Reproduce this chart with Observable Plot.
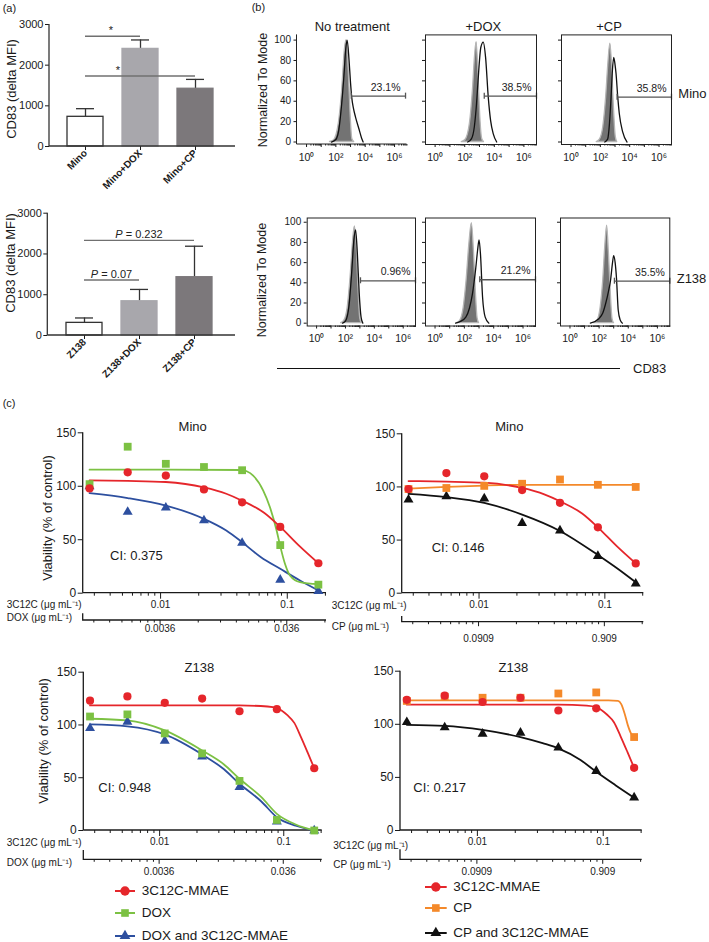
<!DOCTYPE html>
<html><head><meta charset="utf-8">
<script src="https://cdn.jsdelivr.net/npm/d3@7"></script>
<script src="https://cdn.jsdelivr.net/npm/@observablehq/plot@0.6"></script>
<style>
body{margin:0;background:#fff;}
#root{position:relative;width:709px;height:942px;overflow:hidden;background:#fff;font-family:"Liberation Sans",Arial,Helvetica,sans-serif;color:#1a1a1a;}
#root svg{position:absolute;overflow:visible;}
.t{position:absolute;white-space:nowrap;line-height:1;}
</style></head><body><div id="root"></div>
<script>
// ================= DATA =================
// (a) CD83 (delta MFI) bar charts
const aCatsMino = ["Mino", "Mino+DOX", "Mino+CP"];
const aMeanMino = [730, 2400, 1420];
const aErrMino  = [200, 220, 230];
const aSigMinoFrom = ["Mino", "Mino"];
const aSigMinoTo   = ["Mino+DOX", "Mino+CP"];
const aSigMinoY    = [2700, 1720];
const aSigMinoText = ["*", "*"];

const aCatsZ138 = ["Z138", "Z138+DOX", "Z138+CP"];
const aMeanZ138 = [310, 840, 1430];
const aErrZ138  = [120, 290, 760];
const aSigZ138From = ["Z138", "Z138"];
const aSigZ138To   = ["Z138+DOX", "Z138+CP"];
const aSigZ138Y    = [1350, 2320];
const aSigZ138Text = ["P = 0.07", "P = 0.232"];

// (b) flow cytometry histograms: [log10(CD83), % of mode]
const bTitles = ["No treatment", "+DOX", "+CP"];
const bRowNames = ["Mino", "Z138"];
const bPct = [["23.1%", "38.5%", "35.8%"], ["0.96%", "21.2%", "35.5%"]];
const bGateStart = [[3.05, 3.32, 3.14], [3.04, 3.05, 3.05]];
const bGateEnd   = [[6.75, 6.85, 6.85], [6.85, 6.85, 6.85]];
const bGateY     = [[45, 45, 44], [42, 43, 41.6]];
const isoMinoNT  = [[1.6,0],[1.86,1.5],[2.2,18],[2.43,51],[2.61,90],[2.73,100],[2.88,70],[3.0,28],[3.12,3],[3.25,0]];
const cdMinoNT   = [[1.7,0],[2.0,2.5],[2.2,12],[2.4,38],[2.55,65],[2.68,92],[2.77,100],[2.9,80],[3.0,58],[3.08,44],[3.2,33],[3.34,24.5],[3.57,13],[3.75,4],[3.86,0]];
const isoMinoDOX = [[1.8,0],[2.05,2],[2.35,18],[2.55,50],[2.7,85],[2.8,98],[2.92,70],[3.05,25],[3.18,3],[3.3,0]];
const cdMinoDOX  = [[2.2,0],[2.45,3],[2.65,15],[2.8,38],[2.9,60],[3.09,93],[3.25,98],[3.41,83],[3.59,44],[3.75,21],[3.93,8],[4.16,0]];
const isoMinoCP  = [[1.75,0],[1.95,2],[2.2,15],[2.4,45],[2.55,78],[2.68,96.5],[2.8,75],[2.92,35],[3.05,5],[3.15,0]];
const cdMinoCP   = [[2.3,0],[2.5,3],[2.62,18],[2.73,44],[2.82,70],[2.91,83],[3.0,76],[3.07,67],[3.18,45],[3.29,28],[3.52,10],[3.82,0]];
const isoZNT     = [[1.7,0],[1.9,2],[2.15,15],[2.35,45],[2.52,80],[2.65,96],[2.78,75],[2.9,35],[3.02,5],[3.12,0]];
const cdZNT      = [[1.8,0],[2.0,2],[2.25,18],[2.42,48],[2.58,82],[2.7,92.5],[2.82,70],[2.95,30],[3.08,6],[3.2,0]];
const isoZDOX    = [[1.5,0],[1.7,2],[1.95,15],[2.15,42],[2.35,80],[2.51,99],[2.65,72],[2.78,32],[2.9,5],[3.0,0]];
const cdZDOX     = [[1.4,0],[1.7,1.5],[2.1,6],[2.35,15],[2.55,29],[2.78,55],[2.9,72],[3.0,82.5],[3.1,68],[3.24,26],[3.42,6],[3.67,0]];
const isoZCP     = [[1.65,0],[1.87,2],[2.1,15],[2.28,42],[2.43,78],[2.55,96.7],[2.67,70],[2.8,30],[2.92,4],[3.02,0]];
const cdZCP      = [[1.4,0],[1.98,4.4],[2.25,10],[2.44,19],[2.65,32],[2.78,42],[2.92,60],[3.0,67],[3.1,60],[3.19,45],[3.31,13],[3.45,3],[3.6,0]];
const bIso = [[isoMinoNT, isoMinoDOX, isoMinoCP], [isoZNT, isoZDOX, isoZCP]];
const bCd  = [[cdMinoNT, cdMinoDOX, cdMinoCP], [cdZNT, cdZDOX, cdZCP]];
const bExpTicks = [0, 1, 2, 3, 4, 5, 6];

// (c) viability (% of control) vs 3C12C concentration (µg/mL)
const conc = [0.00275, 0.0055, 0.011, 0.022, 0.044, 0.088, 0.176];
const minoMMAE     = [98, 113, 110, 97, 85, 62, 28];
const minoDOX      = [102, 137, 121, 118, 115, 45, 8];
const minoDOXcombo = [100, 76, 80, 68, 47, 12.5, 2];
const minoCP       = [98, 99, 101, 103, 107, 102, 100];
const minoCPcombo  = [88, 91, 89, 66, 59, 35, 9];
const z138MMAE     = [123, 127, 121, 125, 113, 115, 59];
const z138DOX      = [108, 110, 92, 73, 47, 10, 0];
const z138DOXcombo = [97, 103, 85, 70, 41, 8.5, 0];
const z138CP       = [122, 126, 125, 125, 129, 130, 88];
const z138CPcombo  = [102, 97, 91, 92, 78, 56, 31];
// fitted curves
const fitMinoMMAEx = [0.00275, 0.0055, 0.011, 0.022, 0.033, 0.044, 0.066, 0.088, 0.125, 0.176];
const fitMinoMMAEy = [105.5, 105, 104, 99, 93, 86.5, 75, 62, 44, 28];
const fitMinoDOXx  = [0.00275, 0.011, 0.044, 0.0478, 0.0538, 0.0646, 0.073, 0.0824, 0.0875, 0.0959, 0.105, 0.126, 0.176];
const fitMinoDOXy  = [115.5, 115.5, 115.2, 114, 110, 96, 80.4, 58.6, 45.2, 27.5, 16.5, 10.3, 8.4];
const fitMinoDOXcx = [0.00275, 0.0055, 0.011, 0.022, 0.033, 0.044, 0.062, 0.088, 0.126, 0.176];
const fitMinoDOXcy = [93.5, 89, 82, 69.5, 58.6, 47.7, 33.6, 22.8, 11.9, 2.6];
const fitMinoCPx   = [0.00275, 0.0055, 0.011, 0.022, 0.176];
const fitMinoCPy   = [98.5, 100, 101.3, 102, 102];
const fitMinoCPcx  = [0.00275, 0.0055, 0.011, 0.022, 0.044, 0.088, 0.125, 0.176];
const fitMinoCPcy  = [93.5, 90.5, 85, 74, 58.6, 36, 23.5, 10.3];
const fitZMMAEx    = [0.00275, 0.044, 0.074, 0.088, 0.1075, 0.1216, 0.1376, 0.1556, 0.176];
const fitZMMAEy    = [118.5, 118.5, 117.5, 116, 109, 102, 88.5, 74, 59];
const fitZDOXx     = [0.00275, 0.0055, 0.011, 0.022, 0.033, 0.044, 0.066, 0.088, 0.125, 0.176];
const fitZDOXy     = [105.9, 104.3, 94.8, 75.8, 62.6, 49, 31.6, 15.8, 5.7, 0];
const fitZDOXcy    = [100.5, 98.7, 91, 72, 58, 44.3, 27.5, 12.6, 4.5, 0];
const fitZCPx      = [0.00275, 0.11, 0.131, 0.139, 0.148, 0.157, 0.167, 0.176];
const fitZCPy      = [122.5, 122.5, 122, 119, 110, 99, 91, 88.4];
const fitZCPcx     = [0.00275, 0.0055, 0.011, 0.022, 0.033, 0.044, 0.066, 0.088, 0.125, 0.176];
const fitZCPcy     = [99.5, 98.6, 94.8, 87.9, 82.2, 77.4, 66.4, 55.3, 42.7, 30.9];
const concTicks = [0.01, 0.1];
const doxTicks = [0.0036, 0.036];
const cpTicks = [0.0909, 0.909];
const ciValues = ["CI: 0.375", "CI: 0.146", "CI: 0.948", "CI: 0.217"];
const legendDOX = ["3C12C-MMAE", "DOX", "DOX and 3C12C-MMAE"];
const legendCP  = ["3C12C-MMAE", "CP", "CP and 3C12C-MMAE"];

// ================= HELPERS =================
const FONT = '"Liberation Sans", Arial, Helvetica, sans-serif';
const root = document.getElementById("root");
const baseStyle = {fontFamily: FONT, fontSize: "10px", color: "#1a1a1a", background: "transparent", overflow: "visible"};
const RED = "#e5262b", GREEN = "#7cc143", BLUE = "#2d4f9f", ORANGE = "#f4892a", BLACK = "#111111";
const sup = {0: "\u2070", 2: "\u00B2", 4: "\u2074", 6: "\u2076"};

function put(svg, left, top) { svg.style.left = left + "px"; svg.style.top = top + "px"; root.appendChild(svg); }
function label(text, x, y, o = {}) {
  const d = document.createElement("div");
  d.className = "t";
  d.textContent = text;
  d.style.left = x + "px"; d.style.top = y + "px";
  d.style.fontSize = (o.size || 13) + "px";
  if (o.weight) d.style.fontWeight = o.weight;
  const a = o.anchor || "middle";
  const tx = a === "start" ? "0" : a === "end" ? "-100%" : "-50%";
  d.style.transform = `translate(${tx},-50%)` + (o.rotate ? ` rotate(${o.rotate}deg)` : "");
  root.appendChild(d);
}
function pairs(xs, ys) { return xs.map((x, i) => ({x, y: ys[i]})); }
function edgeLines(sides, stroke = "#1a1a1a", sw = 1) {
  return (index, scales, values, dim) => {
    const {width, height, marginLeft: l, marginRight: r, marginTop: t, marginBottom: b} = dim;
    const g = d3.create("svg:g").attr("stroke", stroke).attr("stroke-width", sw).attr("fill", "none");
    const x0 = l, x1 = width - r, y0 = t, y1 = height - b;
    if (sides.includes("left")) g.append("line").attr("x1", x0).attr("x2", x0).attr("y1", y0).attr("y2", y1);
    if (sides.includes("bottom")) g.append("line").attr("x1", x0).attr("x2", x1).attr("y1", y1).attr("y2", y1);
    return g.node();
  };
}
function sigMark(from, to, ys, labels, dxs) {
  return (index, scales) => {
    const g = d3.create("svg:g");
    const bw = typeof scales.x.bandwidth === "function" ? scales.x.bandwidth() : 0;
    from.forEach((f, i) => {
      const xa = scales.x(f) + bw / 2, xb = scales.x(to[i]) + bw / 2, y = scales.y(ys[i]);
      g.append("line").attr("x1", xa).attr("x2", xb).attr("y1", y).attr("y2", y)
        .attr("stroke", "#707070").attr("stroke-width", 1.4);
      const t = g.append("text").attr("x", (xa + xb) / 2 + dxs[i]).attr("y", y - 2)
        .attr("text-anchor", "middle").attr("font-size", 11).attr("fill", "#222");
      const m = /^P(.*)$/.exec(labels[i]);
      if (m) { t.append("tspan").attr("font-style", "italic").text("P"); t.append("tspan").text(m[1]); }
      else t.text(labels[i]);
    });
    return g.node();
  };
}
function logMinors(bases, domain) {
  const out = [];
  for (const b of bases) for (let k = 2; k <= 9; k++) { const v = b * k; if (v >= domain[0] && v <= domain[1]) out.push(v); }
  return out;
}

// ================= (a) =================
const barFills = ["#ffffff", "#a8a7ac", "#7c787b"];
function barPlot(cats, means, errs, sig, geo) {
  const data = cats.map((c, i) => ({cat: c, v: means[i], hi: means[i] + errs[i], fill: barFills[i], stroke: i === 0 ? "#333" : barFills[i]}));
  const svg = Plot.plot({
    width: 240, height: 200, marginLeft: geo.ml, marginRight: 5, marginTop: geo.mt, marginBottom: geo.mb,
    x: {domain: cats, paddingInner: 0.35, paddingOuter: 0.36, align: 0.45, label: null},
    y: {domain: [0, 3000], label: null},
    color: {type: "identity"},
    style: baseStyle,
    marks: [
      Plot.ruleX(data, {x: "cat", y1: "v", y2: "hi", stroke: "#333", strokeWidth: 1.3}),
      Plot.tickY(data, {x: "cat", y: "hi", stroke: "#333", strokeWidth: 1.3, insetLeft: 9, insetRight: 9}),
      Plot.barY(data, {x: "cat", y: "v", fill: "fill", stroke: "stroke", strokeWidth: 1.3}),
      Plot.axisY([0, 1000, 2000, 3000], {tickSize: 4, tickPadding: 2, fontSize: 11, label: null, tickFormat: d => String(d)}),
      Plot.axisX({tickSize: 4, tickPadding: 1, tickRotate: -45, fontSize: 10, fontWeight: "bold", label: null}),
      edgeLines(["left", "bottom"], "#333", 1.3),
      sigMark(sig.from, sig.to, sig.y, sig.text, sig.dx)
    ]
  });
  put(svg, 0, geo.top);
}
barPlot(aCatsMino, aMeanMino, aErrMino,
  {from: aSigMinoFrom, to: aSigMinoTo, y: aSigMinoY, text: aSigMinoText, dx: [-1.5, -22]},
  {top: 0, ml: 49, mt: 24, mb: 54});
barPlot(aCatsZ138, aMeanZ138, aErrZ138,
  {from: aSigZ138From, to: aSigZ138To, y: aSigZ138Y, text: aSigZ138Text, dx: [0, 0]},
  {top: 190, ml: 47.3, mt: 22.7, mb: 55});
label("(a)", 2.7, 8.3, {anchor: "start", size: 11});
label("CD83 (delta MFI)", 11, 89, {rotate: -90, size: 13});
label("CD83 (delta MFI)", 10, 262.5, {rotate: -90, size: 13});

// ================= (b) =================
const bFrames = [[[296.5, 406.5], [425, 536], [560.5, 670.5]], [[306.7, 415], [425, 535], [560, 669.3]]];
const bMinor = logMinors([1, 10, 100, 1000, 10000, 100000, 1000000], [1, 7000000]).map(v => Math.log10(v));
function histPlot(r, c) {
  const fr = bFrames[r][c];
  const first = c === 0;
  const svgLeft = first ? 266 : fr[0] - 6;
  const ml = fr[0] - svgLeft, mr = 3;
  const width = fr[1] - svgLeft + mr;
  const top = r === 0 ? 20 : 200, height = 150;
  const mt = r === 0 ? 14.4 : 17.5, mb = r === 0 ? 26 : 24.5;
  const yDom = r === 0 ? [-2.45, 105.1] : [-2.8, 104.2];
  const gate = [{x1: bGateStart[r][c], x2: bGateEnd[r][c], y: bGateY[r][c], pct: bPct[r][c]}];
  const svg = Plot.plot({
    width, height, marginLeft: ml, marginRight: mr, marginTop: mt, marginBottom: mb,
    x: {domain: [-0.65, 6.85], label: null},
    y: {domain: yDom, label: null},
    style: baseStyle,
    marks: [
      Plot.areaY(bIso[r][c], {x: d => d[0], y: d => d[1], fill: "#737373", stroke: "#b5b5b5", strokeWidth: 1.3, curve: "monotone-x"}),
      Plot.lineY(bCd[r][c], {x: d => d[0], y: d => d[1], stroke: "#111", strokeWidth: 1.3, curve: "monotone-x"}),
      Plot.link(gate, {x1: "x1", x2: "x2", y1: "y", y2: "y", stroke: "#555", strokeWidth: 1.3}),
      Plot.ruleX(gate, {x: "x1", y1: "y", y2: "y", insetTop: -3, insetBottom: -3, stroke: "#555", strokeWidth: 1.3}),
      Plot.ruleX(gate, {x: "x2", y1: "y", y2: "y", insetTop: -3, insetBottom: -3, stroke: "#555", strokeWidth: 1.3}),
      Plot.text(gate, {x: "x2", y: "y", text: "pct", textAnchor: "end", dx: -5, dy: -9, fontSize: 10.5, fill: "#222"}),
      Plot.axisY([0, 20, 40, 60, 80, 100], {tickSize: 3, tickPadding: 3, fontSize: 10, label: null, tickFormat: first ? d => String(d) : () => ""}),
      Plot.axisX(bExpTicks, {tickSize: 3, tickPadding: 6, fontSize: 10.5, label: null, tickFormat: d => d % 2 === 0 ? "10" + sup[d] : ""}),
      Plot.axisX(bMinor, {tickSize: 1.5, tickFormat: () => "", label: null}),
      (r === 0 && c === 0) ? edgeLines(["left", "bottom"], "#222", 1) : Plot.frame({stroke: "#222"})
    ]
  });
  put(svg, svgLeft, top);
}
for (let r = 0; r < 2; r++) for (let c = 0; c < 3; c++) histPlot(r, c);
label("(b)", 251.7, 7, {anchor: "start", size: 11});
label(bTitles[0], 352.3, 26, {size: 13});
label(bTitles[1], 483.3, 26, {size: 13});
label(bTitles[2], 609, 26, {size: 13});
label(bRowNames[0], 678.3, 92.7, {anchor: "start", size: 13});
label(bRowNames[1], 676.7, 278.3, {anchor: "start", size: 13});
label("Normalized To Mode", 263.3, 90, {rotate: -90, size: 12.5});
label("Normalized To Mode", 261.7, 280, {rotate: -90, size: 12.5});
{
  const d = document.createElement("div");
  d.style.cssText = "position:absolute;left:276.7px;top:367.5px;width:343.3px;height:0;border-top:1.5px solid #111;";
  root.appendChild(d);
}
label("CD83", 633, 367.7, {anchor: "start", size: 13});

// ================= (c) =================
const concDomain = [0.00245, 0.204];
const concMinor = logMinors([0.001, 0.01, 0.1], concDomain);
// second (drug) axis drawn below the 3C12C axis through the same x scale
function secondAxisMark(s) {
  return (index, scales, values, dim) => {
    const {width, height, marginLeft: l, marginRight: r, marginBottom: b} = dim;
    const y0 = height - b + s.offset;
    const g = d3.create("svg:g");
    g.append("path").attr("d", `M${l},${y0 - s.cap}V${y0}H${width - r}`)
      .attr("fill", "none").attr("stroke", "#1a1a1a").attr("stroke-width", 1.3);
    for (const c of concMinor) {
      const x = scales.x(c);
      g.append("line").attr("x1", x).attr("x2", x).attr("y1", y0).attr("y2", y0 + 2.5).attr("stroke", "#1a1a1a");
    }
    concTicks.forEach((c, i) => {
      const x = scales.x(c);
      g.append("line").attr("x1", x).attr("x2", x).attr("y1", y0).attr("y2", y0 + 4.5).attr("stroke", "#1a1a1a");
      g.append("text").attr("x", x).attr("y", y0 + s.labelDy).attr("dy", "0.35em")
        .attr("text-anchor", "middle").attr("font-size", 10).attr("fill", "#1a1a1a").text(String(s.ticks[i]));
    });
    return g.node();
  };
}
function dosePlot(cfg) {
  const marks = [
    Plot.axisY([0, 50, 100, 150], {tickSize: 5, tickPadding: 2, fontSize: 12, label: null}),
    Plot.axisX(concTicks, {tickSize: 6, tickPadding: 1.5, fontSize: 10, label: null, tickFormat: d => String(d)}),
    Plot.axisX(concMinor, {tickSize: 3, tickFormat: () => "", label: null}),
    edgeLines(["left", "bottom"], "#1a1a1a", 1.3),
    secondAxisMark(cfg.second)
  ];
  for (const L of cfg.lines) marks.push(Plot.line(pairs(L.x, L.y), {x: "x", y: "y", stroke: L.color, strokeWidth: 1.8, curve: "monotone-x"}));
  for (const D of cfg.dots) marks.push(Plot.dot(pairs(conc, D.y), {x: "x", y: "y", fill: D.color, stroke: "none", symbol: D.symbol, r: D.r}));
  const svg = Plot.plot({
    width: cfg.width, height: cfg.height, marginLeft: cfg.ml, marginRight: cfg.mr, marginTop: cfg.mt, marginBottom: cfg.mb,
    x: {type: "log", domain: concDomain, label: null},
    y: {domain: [0, 150], label: null},
    style: baseStyle,
    marks
  });
  put(svg, cfg.left, cfg.top);
}

// top-left: Mino, DOX
dosePlot({left: 0, top: 420, width: 360, height: 193, ml: 82.7, mr: 34, mt: 12.3, mb: 20.3,
  second: {offset: 27.3, cap: 6.7, labelDy: 8, ticks: doxTicks},
  lines: [{x: fitMinoDOXcx, y: fitMinoDOXcy, color: BLUE}, {x: fitMinoDOXx, y: fitMinoDOXy, color: GREEN}, {x: fitMinoMMAEx, y: fitMinoMMAEy, color: RED}],
  dots: [{y: minoDOXcombo, color: BLUE, symbol: "triangle", r: 3.7}, {y: minoDOX, color: GREEN, symbol: "square", r: 4.4}, {y: minoMMAE, color: RED, symbol: "circle", r: 4.1}]});
// top-right: Mino, CP
dosePlot({left: 350, top: 420, width: 340, height: 193, ml: 51.7, mr: 46.7, mt: 13.3, mb: 20.3,
  second: {offset: 29, cap: 5.7, labelDy: 16.6, ticks: cpTicks},
  lines: [{x: fitMinoCPcx, y: fitMinoCPcy, color: BLACK}, {x: fitMinoCPx, y: fitMinoCPy, color: ORANGE}, {x: fitMinoMMAEx, y: fitMinoMMAEy, color: RED}],
  dots: [{y: minoCPcombo, color: BLACK, symbol: "triangle", r: 3.7}, {y: minoCP, color: ORANGE, symbol: "square", r: 4.4}, {y: minoMMAE, color: RED, symbol: "circle", r: 4.1}]});
// bottom-left: Z138, DOX
dosePlot({left: 0, top: 660, width: 360, height: 190, ml: 83.3, mr: 38.3, mt: 11.7, mb: 20,
  second: {offset: 29.3, cap: 9.3, labelDy: 12.4, ticks: doxTicks},
  lines: [{x: fitZDOXx, y: fitZDOXcy, color: BLUE}, {x: fitZDOXx, y: fitZDOXy, color: GREEN}, {x: fitZMMAEx, y: fitZMMAEy, color: RED}],
  dots: [{y: z138DOXcombo, color: BLUE, symbol: "triangle", r: 3.7}, {y: z138DOX, color: GREEN, symbol: "square", r: 4.4}, {y: z138MMAE, color: RED, symbol: "circle", r: 4.1}]});
// bottom-right: Z138, CP
dosePlot({left: 350, top: 660, width: 340, height: 190, ml: 50, mr: 48.3, mt: 10.7, mb: 20,
  second: {offset: 29.3, cap: 10, labelDy: 12.4, ticks: cpTicks},
  lines: [{x: fitZCPcx, y: fitZCPcy, color: BLACK}, {x: fitZCPx, y: fitZCPy, color: ORANGE}, {x: fitZMMAEx, y: fitZMMAEy, color: RED}],
  dots: [{y: z138CPcombo, color: BLACK, symbol: "triangle", r: 3.7}, {y: z138CP, color: ORANGE, symbol: "square", r: 4.4}, {y: z138MMAE, color: RED, symbol: "circle", r: 4.1}]});

label("(c)", 2.7, 403, {anchor: "start", size: 11});
label("Mino", 192.7, 426, {size: 13});
label("Mino", 509.3, 426, {size: 13});
label("Z138", 199.3, 666.7, {size: 13});
label("Z138", 513.3, 666.7, {size: 13});
label(ciValues[0], 110, 555, {anchor: "start", size: 13});
label(ciValues[1], 431.7, 546.7, {anchor: "start", size: 13});
label(ciValues[2], 98.3, 786.7, {anchor: "start", size: 13});
label(ciValues[3], 413.3, 786.7, {anchor: "start", size: 13});
label("Viability (% of control)", 46.7, 517.5, {rotate: -90, size: 13});
label("Viability (% of control)", 43.3, 740.8, {rotate: -90, size: 13});
label("3C12C (\u03BCg mL\u207B\u00B9)", 6.7, 605, {anchor: "start", size: 10});
label("DOX (\u03BCg mL\u207B\u00B9)", 6.7, 618.3, {anchor: "start", size: 10});
label("3C12C (\u03BCg mL\u207B\u00B9)", 331.7, 605.7, {anchor: "start", size: 10});
label("CP (\u03BCg mL\u207B\u00B9)", 331.7, 627, {anchor: "start", size: 10});
label("3C12C (\u03BCg mL\u207B\u00B9)", 6.7, 843.3, {anchor: "start", size: 10});
label("DOX (\u03BCg mL\u207B\u00B9)", 6.7, 863.3, {anchor: "start", size: 10});
label("3C12C (\u03BCg mL\u207B\u00B9)", 333.3, 845.7, {anchor: "start", size: 10});
label("CP (\u03BCg mL\u207B\u00B9)", 333.3, 865, {anchor: "start", size: 10});

// legends
function legendRow(x0, x1, y, color, sym, text, tx) {
  const w = x1 - x0 + 14, h = 14;
  const svg = d3.create("svg").attr("width", w).attr("height", h)
    .style("left", (x0 - 7) + "px").style("top", (y - 7) + "px");
  svg.append("line").attr("x1", 7).attr("x2", w - 7).attr("y1", 7).attr("y2", 7).attr("stroke", color).attr("stroke-width", 2);
  const type = {circle: d3.symbolCircle, square: d3.symbolSquare, triangle: d3.symbolTriangle}[sym];
  const size = {circle: 70, square: 58, triangle: 50}[sym];
  svg.append("path").attr("d", d3.symbol(type, size)()).attr("transform", `translate(${w / 2},7)`).attr("fill", color);
  root.appendChild(svg.node());
  label(text, tx, y, {anchor: "start", size: 13.5});
}
const legSyms = ["circle", "square", "triangle"];
const legColorsDOX = [RED, GREEN, BLUE], legColorsCP = [RED, ORANGE, BLACK];
const legYL = [890.7, 913.3, 936], legYR = [887.3, 908.3, 932.7];
legendDOX.forEach((t, i) => legendRow(115, 135, legYL[i], legColorsDOX[i], legSyms[i], t, 141.7));
legendCP.forEach((t, i) => legendRow(425, 446.7, legYR[i], legColorsCP[i], legSyms[i], t, 453.3));
</script>
</body></html>
